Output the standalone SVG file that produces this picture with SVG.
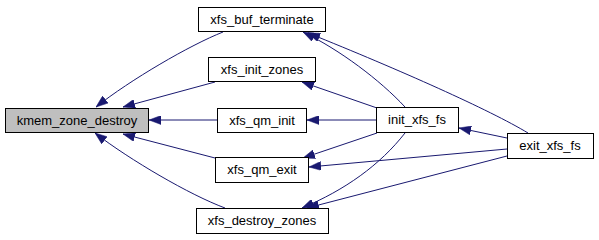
<svg xmlns="http://www.w3.org/2000/svg" width="599" height="240" viewBox="0 0 599 240">
  <style>
    .node rect { fill: #ffffff; stroke: #000000; stroke-width: 1; }
    .node.root rect { fill: #bfbfbf; }
    .node text { font-family: "Liberation Sans", Arial, Helvetica, sans-serif; font-size: 13px; fill: #000000; text-anchor: middle; }
    .edges path { fill: none; stroke: #191970; stroke-width: 1; marker-end: url(#arrow); }
  </style>
  <defs>
    <marker id="arrow" viewBox="0 0 12 9" markerWidth="12" markerHeight="9" refX="12" refY="4.5" orient="auto" markerUnits="userSpaceOnUse">
      <path d="M0,0 L12,4.5 L0,9 z" fill="#191970" stroke="#191970" stroke-width="0.5"/>
    </marker>
  </defs>
  <rect width="599" height="240" fill="#ffffff"/>

  <!-- call edges: caller -> callee -->
  <g class="edges">
    <path d="M223,32 C190,45 130,80 96,107"/>
    <path d="M215,82 L123,107"/>
    <path d="M217,120 L149,120"/>
    <path d="M215,158 L123,134"/>
    <path d="M225,208 C190,195 130,160 95,133"/>
    <path d="M405,107 C380,80 340,50 303,32"/>
    <path d="M377,108 L302,82"/>
    <path d="M376,120 L307,120"/>
    <path d="M377,133 L303,158"/>
    <path d="M405,133 C380,165 345,190 302,208"/>
    <path d="M507,138 L459,128"/>
    <path d="M528,133 C490,110 400,70 308,33"/>
    <path d="M507,149 L309,167"/>
    <path d="M507,156 L307,208"/>
  </g>

  <g id="kmem_zone_destroy" class="node root">
    <rect x="5.5" y="108.5" width="143" height="24"/>
    <text x="77" y="124.5">kmem_zone_destroy</text>
  </g>
  <g id="xfs_buf_terminate" class="node">
    <rect x="198.5" y="7.5" width="127" height="24"/>
    <text x="262" y="23.5">xfs_buf_terminate</text>
  </g>
  <g id="xfs_init_zones" class="node">
    <rect x="208.5" y="57.5" width="107" height="24"/>
    <text x="262" y="73.5">xfs_init_zones</text>
  </g>
  <g id="xfs_qm_init" class="node">
    <rect x="217.5" y="108.5" width="89" height="24"/>
    <text x="262" y="124.5">xfs_qm_init</text>
  </g>
  <g id="xfs_qm_exit" class="node">
    <rect x="215.5" y="157.5" width="93" height="25"/>
    <text x="262" y="174">xfs_qm_exit</text>
  </g>
  <g id="xfs_destroy_zones" class="node">
    <rect x="196.5" y="208.5" width="132" height="25"/>
    <text x="262" y="225">xfs_destroy_zones</text>
  </g>
  <g id="init_xfs_fs" class="node">
    <rect x="376.5" y="107.5" width="82" height="25"/>
    <text x="417" y="124">init_xfs_fs</text>
  </g>
  <g id="exit_xfs_fs" class="node">
    <rect x="507.5" y="133.5" width="86" height="25"/>
    <text x="550" y="150">exit_xfs_fs</text>
  </g>
</svg>
